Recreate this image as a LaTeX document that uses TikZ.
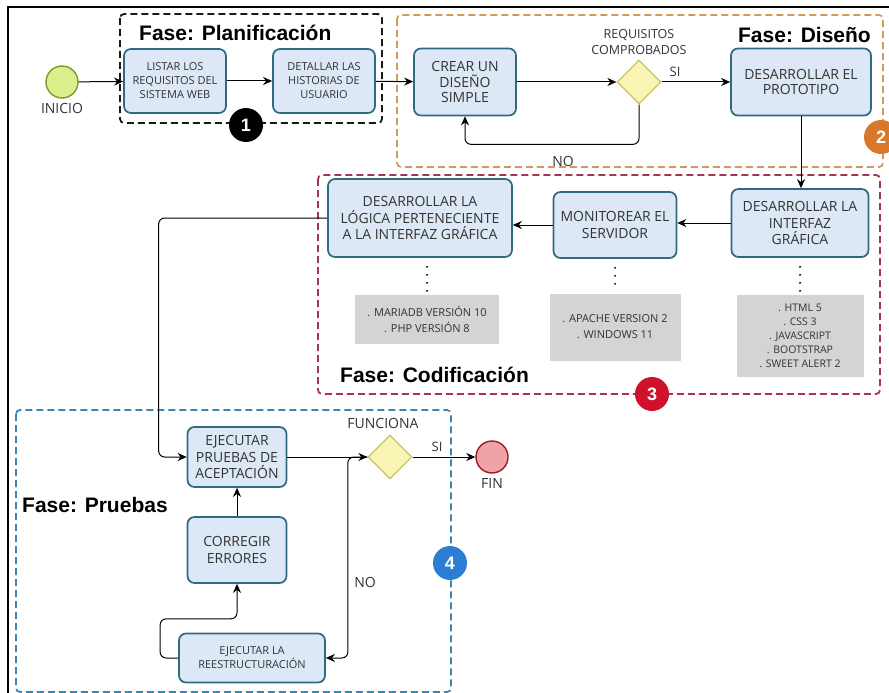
\documentclass[tikz,border=0pt]{standalone}
\usepackage{fontspec}
\setmainfont{Open Sans}
\newfontfamily\fasefont{Liberation Sans}
\usetikzlibrary{positioning}
\usetikzlibrary{shapes.geometric}
\usetikzlibrary{arrows.meta}
\usetikzlibrary{calc}

\definecolor{boxfill}{HTML}{DDE8F6}
\definecolor{boxline}{HTML}{2F6A80}
\definecolor{txtgray}{HTML}{333333}
\definecolor{grisbox}{HTML}{D4D4D4}
\definecolor{diafill}{HTML}{F8F5B4}
\definecolor{dialine}{HTML}{C9C266}
\definecolor{iniciofill}{HTML}{DBEF8C}
\definecolor{inicioline}{HTML}{7D9A2C}
\definecolor{finfill}{HTML}{EFA3A6}
\definecolor{finline}{HTML}{9C1C22}
\definecolor{planline}{HTML}{1A1A1A}
\definecolor{disline}{HTML}{D39A5C}
\definecolor{codline}{HTML}{A8344E}
\definecolor{pruline}{HTML}{3D84B3}
\definecolor{naranja}{HTML}{D8782A}
\definecolor{rojo}{HTML}{D0112B}
\definecolor{azul}{HTML}{2A7FD4}

\begin{document}
\begin{tikzpicture}[x=1pt, y=-1pt,
  tarea/.style={align=center, draw=boxline, fill=boxfill, line width=1.7pt,
    rounded corners=7pt, text=txtgray, inner sep=2pt},
  tchica/.style={font=\fontsize{11}{14}\selectfont},
  tgrande/.style={font=\fontsize{14}{16.5}\selectfont},
  gris/.style={align=center, fill=grisbox, text=txtgray, inner sep=2pt,
    font=\fontsize{11}{16}\selectfont},
  rombo/.style={diamond, draw=dialine, fill=diafill, line width=1.2pt,
    minimum width=44pt, minimum height=44pt, inner sep=0pt},
  etiqueta/.style={align=center, text=txtgray, inner sep=0pt,
    font=\fontsize{14}{16}\selectfont},
  fase/.style={inner sep=0pt, font=\fasefont\bfseries\fontsize{21}{24}\selectfont},
  marca/.style={circle, minimum size=34pt, inner sep=0pt, text=white,
    font=\fasefont\bfseries\fontsize{18}{18}\selectfont},
  grupo/.style={line width=1.8pt, dash pattern=on 7pt off 4pt, rounded corners=4pt},
  flecha/.style={-{Stealth[length=9pt, width=8pt]}, line width=1pt},
  puntos/.style={line width=2.2pt, line cap=round, dash pattern=on 0pt off 8pt}]

\useasboundingbox (0, 0) rectangle (889, 693);
\pgfmathsetmacro{\DOT}{9}

\draw [line width=1.8pt] (889, 7) -- (8, 7) -- (8, 693);

\draw [grupo, draw=planline] (120, 14) rectangle (382, 123);
\draw [grupo, draw=disline] (397, 15) rectangle (883, 167);
\draw [grupo, draw=codline] (318, 175) rectangle (880, 394);
\draw [grupo, draw=pruline] (16, 410) rectangle (451, 692);

\node [fase, anchor=west] (tplan) at (139, 33) {Fase: Planificación};
\node [fase, anchor=east] (tdis) at (871, 35) {Fase: Diseño};
\node [fase, anchor=west] (tcod) at (340, 375) {Fase: Codificación};
\node [fase, anchor=west] (tpru) at (22, 505) {Fase: Pruebas};

\node [circle, draw=inicioline, fill=iniciofill, line width=1.4pt, minimum size=32pt,
  inner sep=0pt] (inicio) at (62, 82) {};
\node [etiqueta, below=4pt of inicio] (lblinicio) {INICIO};

\node [tarea, tchica, minimum width=102pt, minimum height=64pt] (listar) at
(175, 81) {LISTAR LOS\\REQUISITOS DEL\\SISTEMA WEB};
\node [tarea, tchica, minimum width=102pt, minimum height=64pt] (detallar) at
(324, 81) {DETALLAR LAS\\HISTORIAS DE\\USUARIO};

\node [tarea, font=\fontsize{14}{15.5}\selectfont, minimum width=102pt,
  minimum height=67pt] (crear) at (465, 82) {CREAR UN\\DISEÑO\\SIMPLE};
\node [rombo] (reqdia) at (639, 82) {};
\node [etiqueta, font=\fontsize{12.5}{16}\selectfont, above=5pt of reqdia] (lblreq)
{REQUISITOS\\COMPROBADOS};
\node [etiqueta, font=\fontsize{13}{15}\selectfont] (lblsi1) at (675, 72) {SI};
\node [etiqueta] (lblno1) at (563, 161) {NO};
\node [tarea, font=\fontsize{14}{15.5}\selectfont, minimum width=140pt,
  minimum height=67pt] (prototipo) at (801, 82) {DESARROLLAR EL\\PROTOTIPO};

\node [tarea, tgrande, minimum width=137pt, minimum height=68pt] (interfaz) at
(800, 223) {DESARROLLAR LA\\INTERFAZ\\GRÁFICA};
\node [tarea, tgrande, minimum width=123pt, minimum height=66pt] (monitor) at
(615, 225) {MONITOREAR EL\\SERVIDOR};
\node [tarea, tgrande, minimum width=184pt, minimum height=78pt] (logica) at
(420, 218) {DESARROLLAR LA\\LÓGICA PERTENECIENTE\\A LA INTERFAZ GRÁFICA};

\node [gris, minimum width=144pt, minimum height=49pt] (g1) at (427, 319)
{. MARIADB VERSIÓN 10\\. PHP VERSIÓN 8};
\node [gris, minimum width=131pt, minimum height=67pt] (g2) at (615, 327)
{. APACHE VERSION 2\\. WINDOWS 11};
\node [gris, font=\fontsize{10.5}{14}\selectfont, minimum width=127pt,
  minimum height=82pt] (g3) at (800, 336)
{. HTML 5\\. CSS 3\\. JAVASCRIPT\\. BOOTSTRAP\\. SWEET ALERT 2};

\node [tarea, tgrande, minimum width=99pt, minimum height=60pt] (pruebas) at
(237, 457) {EJECUTAR\\PRUEBAS DE\\ACEPTACIÓN};
\node [tarea, font=\fontsize{14}{17}\selectfont, minimum width=99pt,
  minimum height=66pt] (corregir) at (237, 550) {CORREGIR\\ERRORES};
\node [tarea, tchica, minimum width=146pt, minimum height=49pt] (reest) at
(252, 658) {EJECUTAR LA\\REESTRUCTURACIÓN};
\node [rombo] (funcdia) at (390, 457) {};
\node [etiqueta] (lblfunc) at (383, 423) {FUNCIONA};
\node [etiqueta, font=\fontsize{13}{15}\selectfont] (lblsi2) at (437, 447) {SI};
\node [etiqueta] (lblno2) at (365, 582) {NO};
\node [circle, draw=finline, fill=finfill, line width=1.4pt, minimum size=32pt,
  inner sep=0pt] (fin) at (492, 457) {};
\node [etiqueta, below=5pt of fin] (lblfin) {FIN};

\node [marca, fill=black] (b1) at (246, 125) {1};
\node [marca, fill=naranja] (b2) at (881, 137) {2};
\node [marca, fill=rojo] (b3) at (652, 394) {3};
\node [marca, fill=azul] (b4) at (450, 563) {4};

\draw [flecha] (inicio) -- (listar);
\draw [flecha] (listar) -- (detallar);
\draw [flecha] (detallar) -- (crear);
\draw [flecha] (crear) -- (reqdia);
\draw [flecha] (reqdia) -- (prototipo);
\draw [flecha, rounded corners=6pt] (reqdia.south) |- ($(crear.south) + (0, 28)$)
-- (crear.south);
\draw [flecha] (prototipo.south) -- (prototipo.south |- interfaz.north);
\draw [flecha] (interfaz.west) -- (interfaz.west -| monitor.east);
\draw [flecha] (monitor.west) -- (monitor.west -| logica.east);

\draw [puntos] ($(logica.south -| g1.north) + (0, \DOT)$) -- ($(g1.north) + (0, -3)$);
\draw [puntos] ($(monitor.south -| g2.north) + (0, \DOT)$) -- ($(g2.north) + (0, -3)$);
\draw [puntos] ($(interfaz.south -| g3.north) + (0, \DOT)$) -- ($(g3.north) + (0, -3)$);

\draw [flecha, rounded corners=6pt] (logica.west) -| ($(pruebas.west) + (-28, 0)$)
-- (pruebas.west);
\draw [flecha] (pruebas) -- (funcdia);
\draw [flecha] (funcdia) -- (fin);
\draw [flecha] (corregir) -- (pruebas);
\draw [flecha, rounded corners=6pt] (funcdia.west) -| ($(reest.east) + (22, 0)$)
-- (reest.east);
\draw [flecha, rounded corners=6pt] (reest.west) -- ++(-18, 0)
|- ($(corregir.south) + (0, 35)$) -- (corregir.south);

\end{tikzpicture}
\end{document}
